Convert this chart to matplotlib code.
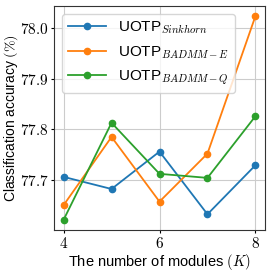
import matplotlib
matplotlib.use("Agg")
import matplotlib.pyplot as plt
from matplotlib.ticker import FuncFormatter

plt.rcParams["mathtext.fontset"] = "cm"
plt.rcParams["font.family"] = ["Liberation Sans", "DejaVu Sans"]

modules = [4, 5, 6, 7, 8]
acc_sinkhorn = [77.706, 77.682, 77.756, 77.632, 77.729]
acc_badmm_e = [77.650, 77.785, 77.657, 77.752, 78.024]
acc_badmm_q = [77.621, 77.813, 77.712, 77.704, 77.826]

fig = plt.figure(figsize=(2.68, 2.72), dpi=100)
ax = fig.add_axes([54 / 268, 42 / 272, 211 / 268, 224 / 272])

ax.plot(modules, acc_sinkhorn, "-o", color="tab:blue", lw=1.3, ms=4.5, label=r"UOTP$_{Sinkhorn}$")
ax.plot(modules, acc_badmm_e, "-o", color="tab:orange", lw=1.3, ms=4.5, label=r"UOTP$_{BADMM-E}$")
ax.plot(modules, acc_badmm_q, "-o", color="tab:green", lw=1.3, ms=4.5, label=r"UOTP$_{BADMM-Q}$")

ax.set_xticks([4, 6, 8])
ax.set_yticks([77.7, 77.8, 77.9, 78.0])
ax.xaxis.set_major_formatter(FuncFormatter(lambda v, p: f"${v:.0f}$"))
ax.yaxis.set_major_formatter(FuncFormatter(lambda v, p: f"${v:.1f}$"))
ax.tick_params(labelsize=11, pad=1.5, length=2.5)
ax.grid(True, color="#cccccc", lw=0.8)
ax.set_axisbelow(True)
for s in ax.spines.values():
    s.set_color("#333333")

ax.set_xlabel(r"The number of modules $(K)$", fontsize=10.5, labelpad=1)
ax.set_ylabel(r"Classification accuracy $(\%)$", fontsize=10)
ax.yaxis.set_label_coords(-0.162, 0.5)
ax.legend(loc="upper left", fontsize=11, handlelength=2.5, borderaxespad=0.5)

fig.savefig("out.png", dpi=100)
